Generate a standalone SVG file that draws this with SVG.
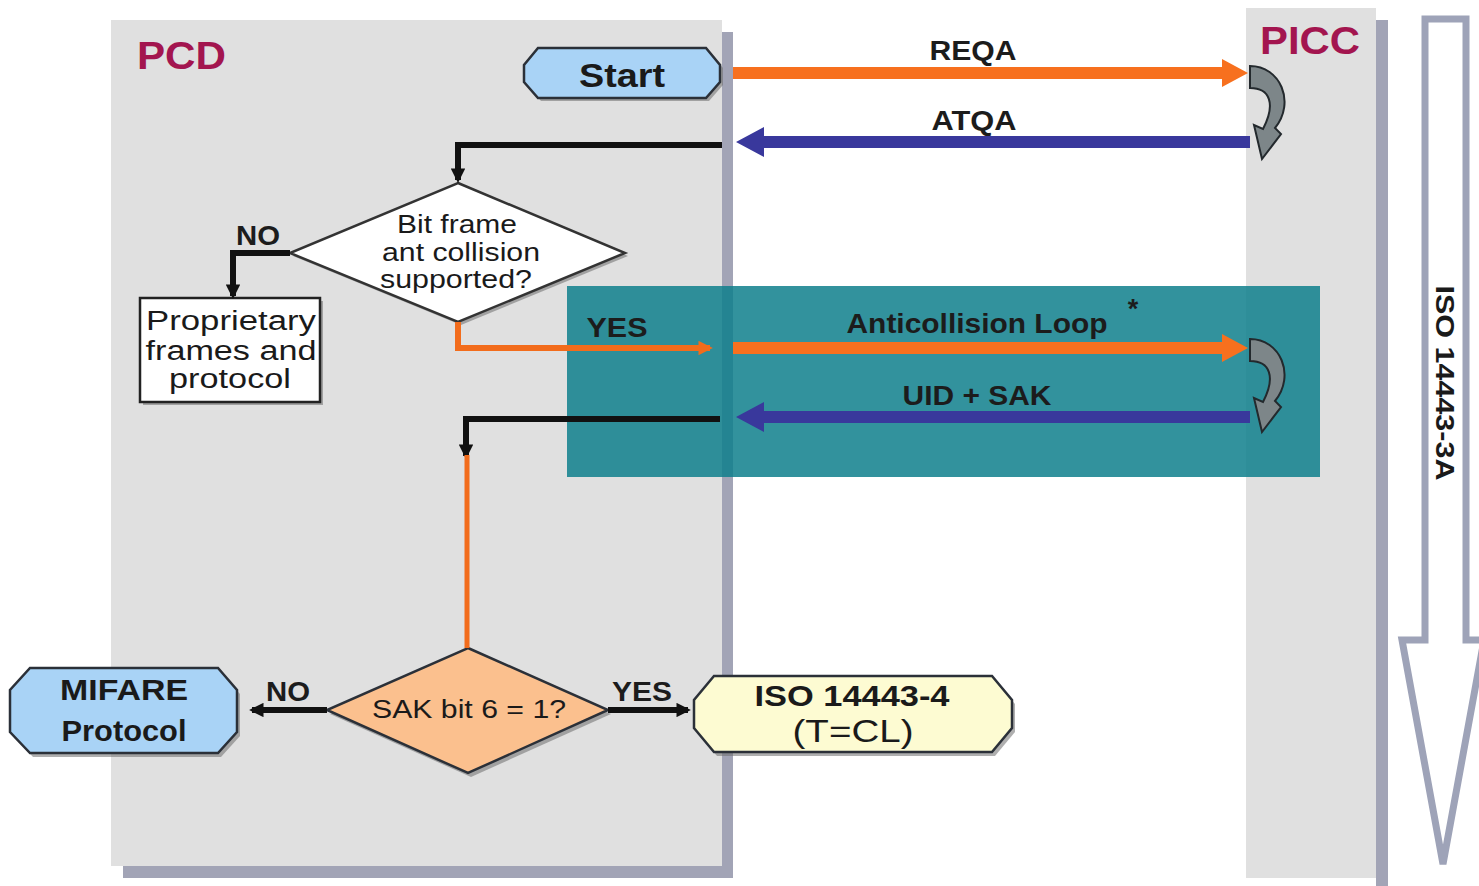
<svg xmlns="http://www.w3.org/2000/svg" width="1479" height="886" viewBox="0 0 1479 886">
<defs>
<style>
.t{font-family:"Liberation Sans",Arial,sans-serif;fill:#1a1a1a}
.b{font-weight:bold}
.lbl{font-family:"Liberation Sans",Arial,sans-serif;font-weight:bold;font-size:27px;fill:#1c1c1c}
.title{font-family:"Liberation Sans",Arial,sans-serif;font-size:38px;font-weight:bold;fill:#a3154f}
.panel{fill:#e0e0e0}
.shadow{fill:#a2a4b6}
.nshadow{fill:#6e6e6e;opacity:0.55}
.node{stroke:#2b3038;stroke-width:2.5}
.blk{fill:none;stroke:#111;stroke-width:6}
.org{fill:none;stroke:#f26c1c;stroke-width:6}
.orgA{fill:#f7701e}
.bluA{fill:#39389c}
.curl{fill:#7d8689;stroke:#23292d;stroke-width:2}
</style>
<marker id="ah" viewBox="0 0 10 10" refX="8" refY="5" markerWidth="2.4" markerHeight="2.4" orient="auto" markerUnits="strokeWidth">
<path d="M0,0 L10,5 L0,10 Z" fill="#111"/>
</marker>
<marker id="aho" viewBox="0 0 10 10" refX="8" refY="5" markerWidth="2.4" markerHeight="2.4" orient="auto" markerUnits="strokeWidth">
<path d="M0,0 L10,5 L0,10 Z" fill="#f26c1c"/>
</marker>
</defs>
<rect width="1479" height="886" fill="#ffffff"/>

<g id="pcd-panel">
<rect class="shadow" x="722" y="32" width="11" height="846"/>
<rect class="shadow" x="123" y="866" width="610" height="12"/>
<rect class="panel" x="111" y="20" width="611" height="846"/>
<text class="title" x="137" y="69" textLength="89" lengthAdjust="spacingAndGlyphs">PCD</text>
</g>

<g id="picc-panel">
<rect class="shadow" x="1376" y="20" width="12" height="866"/>
<rect class="panel" x="1246" y="8" width="130" height="870"/>
<text class="title" x="1260" y="54" textLength="100" lengthAdjust="spacingAndGlyphs">PICC</text>
</g>

<g id="iso-3a-arrow">
<polygon points="1425,19 1466,19 1466,640 1484,640 1443,864 1402,640 1425,640" fill="#ffffff" stroke="#9ea3b8" stroke-width="7" stroke-linejoin="miter"/>
<text class="t b" font-size="26" transform="translate(1436,383) rotate(90)" text-anchor="middle" textLength="195" lengthAdjust="spacingAndGlyphs">ISO 14443-3A</text>
</g>

<g id="anticollision-region">
<rect x="567" y="286" width="753" height="191" fill="#0e7f8c" opacity="0.85"/>
</g>

<g id="start">
<polygon class="nshadow" points="541,52 709,52 723,68 723,85 709,101 541,101 527,85 527,68"/>
<polygon class="node" points="538,48 706,48 720,65 720,82 706,98 538,98 524,82 524,65" fill="#a9d3f6"/>
<text class="t b" x="622" y="87" font-size="34" text-anchor="middle" textLength="86" lengthAdjust="spacingAndGlyphs">Start</text>
</g>

<g id="bitframe-decision">
<polygon class="nshadow" points="461,187 628,256 461,325 293,256"/>
<polygon points="458,183 625,253 458,322 290,253" fill="#ffffff" stroke="#333" stroke-width="2.5"/>
<text class="t" font-size="25" text-anchor="middle"><tspan x="457" y="233" textLength="120" lengthAdjust="spacingAndGlyphs">Bit frame</tspan><tspan x="461" y="261" textLength="158" lengthAdjust="spacingAndGlyphs">ant collision</tspan><tspan x="456" y="288" textLength="152" lengthAdjust="spacingAndGlyphs">supported?</tspan></text>
</g>

<g id="proprietary">
<rect class="nshadow" x="143" y="301" width="180" height="104"/>
<rect x="140" y="298" width="180" height="104" fill="#ffffff" stroke="#222" stroke-width="2.5"/>
<text class="t" font-size="27" text-anchor="middle"><tspan x="231" y="330" textLength="170" lengthAdjust="spacingAndGlyphs">Proprietary</tspan><tspan x="231" y="360" textLength="171" lengthAdjust="spacingAndGlyphs">frames and</tspan><tspan x="230" y="388" textLength="122" lengthAdjust="spacingAndGlyphs">protocol</tspan></text>
</g>

<g id="sak-decision">
<polygon class="nshadow" points="471,652 611,714 471,777 330,714"/>
<polygon class="node" points="468,648 608,710 468,773 327,710" fill="#fbc08e"/>
<text class="t" x="469" y="718" font-size="26" text-anchor="middle" textLength="194" lengthAdjust="spacingAndGlyphs">SAK bit 6 = 1?</text>
</g>

<g id="mifare">
<polygon class="nshadow" points="33,672 221,672 240,694 240,736 221,757 33,757 13,736 13,694"/>
<polygon class="node" points="30,668 218,668 237,690 237,732 218,753 30,753 10,732 10,690" fill="#a9d3f6"/>
<text class="t b" font-size="30" text-anchor="middle"><tspan x="124" y="700" textLength="128" lengthAdjust="spacingAndGlyphs">MIFARE</tspan><tspan x="124" y="741" textLength="125" lengthAdjust="spacingAndGlyphs">Protocol</tspan></text>
</g>

<g id="iso-14443-4">
<polygon class="nshadow" points="717,680 995,680 1015,704 1015,732 995,756 717,756 697,732 697,704"/>
<polygon class="node" points="714,676 992,676 1012,700 1012,728 992,752 714,752 694,728 694,700" fill="#fdfbd2"/>
<text class="t" font-size="30" font-weight="bold" x="852" y="706" text-anchor="middle" textLength="195" lengthAdjust="spacingAndGlyphs">ISO 14443-4</text>
<text class="t" font-size="32" x="853" y="742" text-anchor="middle" textLength="121" lengthAdjust="spacingAndGlyphs">(T=CL)</text>
</g>

<g id="connectors">
<!-- flow connectors -->
<polyline class="blk" points="722,145 458,145 458,180" marker-end="url(#ah)"/>
<polyline class="blk" points="290,253 233,253 233,296" marker-end="url(#ah)"/>
<polyline class="org" points="458,322 458,348 710,348" marker-end="url(#aho)"/>
<polyline class="blk" points="720,419 466,419 466,456" marker-end="url(#ah)"/>
<line x1="467" y1="455" x2="467" y2="648" stroke="#f26c1c" stroke-width="5"/>
<line class="blk" x1="327" y1="710" x2="252" y2="710" marker-end="url(#ah)"/>
<line class="blk" x1="608" y1="710" x2="688" y2="710" marker-end="url(#ah)"/>
<!-- signal arrows -->
<polygon class="orgA" points="733,67 1222,67 1222,59 1248,73 1222,87 1222,79 733,79"/>
<polygon class="bluA" points="1250,136 764,136 764,127 736,142 764,157 764,148 1250,148"/>
<polygon class="orgA" points="733,342 1222,342 1222,334 1248,348 1222,362 1222,354 733,354"/>
<polygon class="bluA" points="1250,411 764,411 764,402 736,417 764,432 764,423 1250,423"/>
<!-- PICC turnaround -->
<path class="curl" d="M1250,66 C1280,66 1296,102 1275,128 L1281,134 L1262,159 L1254,125 L1263,129 C1276,104 1270,88 1250,88 Z"/>
<path class="curl" d="M1250,339 C1280,339 1296,375 1275,401 L1281,407 L1262,432 L1254,398 L1263,402 C1276,377 1270,361 1250,361 Z"/>
</g>

<g id="labels">
<text class="lbl" x="973" y="60" text-anchor="middle" textLength="87" lengthAdjust="spacingAndGlyphs">REQA</text>
<text class="lbl" x="974" y="130" text-anchor="middle" textLength="85" lengthAdjust="spacingAndGlyphs">ATQA</text>
<text class="lbl" x="977" y="333" text-anchor="middle" textLength="261" lengthAdjust="spacingAndGlyphs">Anticollision Loop</text>
<text class="lbl" x="1133" y="318" text-anchor="middle" font-size="24">*</text>
<text class="lbl" x="977" y="405" text-anchor="middle" textLength="149" lengthAdjust="spacingAndGlyphs">UID + SAK</text>
<text class="lbl" x="617" y="337" text-anchor="middle" textLength="61" lengthAdjust="spacingAndGlyphs">YES</text>
<text class="lbl" x="258" y="245" text-anchor="middle" font-size="24" textLength="44" lengthAdjust="spacingAndGlyphs">NO</text>
<text class="lbl" x="288" y="701" text-anchor="middle" font-size="24" textLength="44" lengthAdjust="spacingAndGlyphs">NO</text>
<text class="lbl" x="642" y="701" text-anchor="middle" font-size="24" textLength="60" lengthAdjust="spacingAndGlyphs">YES</text>
</g>
</svg>
